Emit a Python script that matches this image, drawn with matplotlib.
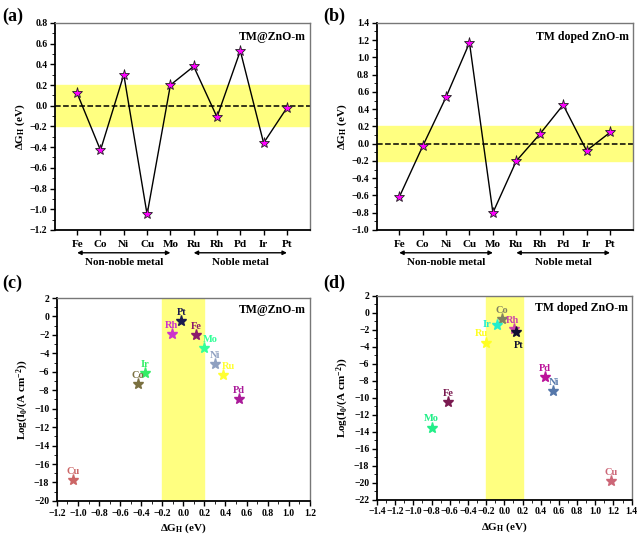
import matplotlib
matplotlib.use('Agg')
import matplotlib.pyplot as plt
from matplotlib.ticker import MultipleLocator

plt.rcParams['font.family'] = ['Liberation Serif', 'DejaVu Serif']
plt.rcParams['font.weight'] = 'bold'
plt.rcParams['axes.labelweight'] = 'bold'
plt.rcParams['mathtext.fontset'] = 'custom'
plt.rcParams['mathtext.rm'] = 'Liberation Serif:bold'
plt.rcParams['mathtext.it'] = 'Liberation Serif:italic:bold'
plt.rcParams['mathtext.bf'] = 'Liberation Serif:bold'

# Dados
metais = ['Fe', 'Co', 'Ni', 'Cu', 'Mo', 'Ru', 'Rh', 'Pd', 'Ir', 'Pt']
dg_a = [0.12, -0.43, 0.30, -1.05, 0.20, 0.38, -0.11, 0.53, -0.36, -0.02]
dg_b = [-0.62, -0.03, 0.54, 1.17, -0.80, -0.20, 0.11, 0.45, -0.08, 0.13]
logi_c = [-2.0, -7.3, -5.2, -17.7, -3.4, -6.4, -1.9, -9.0, -6.1, -0.5]
logi_d = [-10.5, -0.7, -9.2, -19.8, -13.5, -3.5, -1.9, -7.6, -1.4, -2.3]
cores_c = ['#8b1a6b', '#7a7040', '#8fa0c0', '#cc6666', '#33ff99',
           '#ffff33', '#cc33cc', '#aa1a99', '#33ee66', '#1a1a4e']
cores_d = ['#7a1a50', '#808060', '#5577aa', '#cc6677', '#22ee88',
           '#ffff22', '#cc44aa', '#bb1199', '#22eecc', '#101030']

# deslocamento dos rótulos (pontos) em cada painel
offs_c = {'Mo': (4, 3), 'Ru': (4, 3), 'Ni': (0, 3)}
offs_d = {'Ir': (-7, -3), 'Ru': (-3, 3), 'Pt': (2, -13), 'Rh': (-1, 3)}

fig = plt.figure(figsize=(6.4, 5.38), dpi=100)

def estilo(ax):
    for s in ['top', 'right']:
        ax.spines[s].set_color('#777777')
        ax.spines[s].set_linewidth(1.0)
    for s in ['left', 'bottom']:
        ax.spines[s].set_linewidth(1.3)
    ax.tick_params(direction='out', labelsize=7, width=1, pad=2)
    ax.tick_params(which='minor', direction='out', length=2)
    for lb in ax.get_xticklabels() + ax.get_yticklabels():
        lb.set_fontweight('bold')

def painel_linha(ax, valores, ymin, ymax, titulo):
    x = range(len(metais))
    ax.axhspan(-0.2, 0.2, color='#ffff80', zorder=0)
    ax.axhline(0, color='black', ls='--', lw=1.1, zorder=1)
    ax.plot(x, valores, color='black', lw=1, zorder=2)
    ax.plot(x, valores, ls='none', marker='*', ms=8, mfc='#ff00ff',
            mec='#222222', mew=0.6, zorder=3)
    ax.set_xlim(-0.95, 9.98)
    ax.set_ylim(ymin, ymax)
    ax.set_xticks(list(x))
    ax.yaxis.set_major_locator(MultipleLocator(0.2))
    ax.yaxis.set_minor_locator(MultipleLocator(0.1))
    ax.set_ylabel(r'$\Delta$G$_\mathrm{H}$ (eV)', fontsize=8, labelpad=2)
    ax.text(0.985, 0.96, titulo, transform=ax.transAxes, ha='right', va='top',
            fontsize=8.5, fontweight='bold')
    estilo(ax)
    ax.set_xticklabels(metais, fontsize=8, fontweight='bold')
    ax.tick_params(axis='x', pad=4)
    trans = ax.get_xaxis_transform()
    for a, b, nome in [(0, 4, 'Non-noble metal'), (5, 9, 'Noble metal')]:
        ax.annotate('', xy=(b, -0.11), xytext=(a, -0.11), xycoords=trans,
                    textcoords=trans, annotation_clip=False,
                    arrowprops=dict(arrowstyle='<|-|>', color='black', lw=1,
                                    mutation_scale=6, shrinkA=0, shrinkB=0))
        ax.text((a + b) / 2, -0.155, nome, transform=trans, ha='center',
                va='center', fontsize=8, fontweight='bold')

def painel_volcano(ax, xs, ys, cores, xmin, xmax, ymin, titulo, offs):
    ax.axvspan(-0.2, 0.2, color='#ffff80', zorder=0)
    for m, xv, yv, c in zip(metais, xs, ys, cores):
        ax.plot(xv, yv, ls='none', marker='*', ms=8, color=c, mec=c, zorder=3)
        dx, dy = offs.get(m, (0, 3))
        ax.annotate(m, (xv, yv), xytext=(dx, dy), textcoords='offset points',
                    ha='center', va='bottom', color=c, fontsize=7.5,
                    fontweight='bold', zorder=4)
    ax.set_xlim(xmin, xmax)
    ax.set_ylim(ymin, 2)
    ax.xaxis.set_major_locator(MultipleLocator(0.2))
    ax.xaxis.set_minor_locator(MultipleLocator(0.1))
    ax.yaxis.set_major_locator(MultipleLocator(2))
    ax.yaxis.set_minor_locator(MultipleLocator(1))
    ax.set_xlabel(r'$\Delta$G$_\mathrm{H}$ (eV)', fontsize=8, labelpad=3)
    ax.set_ylabel(r'Log(I$_0$/(A cm$^{-2}$))', fontsize=8, labelpad=2)
    ax.text(0.985, 0.97, titulo, transform=ax.transAxes, ha='right', va='top',
            fontsize=8.5, fontweight='bold')
    estilo(ax)

ax_a = fig.add_axes([0.086, 0.5725, 0.398, 0.385])
painel_linha(ax_a, dg_a, -1.2, 0.8, 'TM@ZnO-m')

ax_b = fig.add_axes([0.589, 0.5725, 0.400, 0.385])
painel_linha(ax_b, dg_b, -1.0, 1.4, 'TM doped ZnO-m')

ax_c = fig.add_axes([0.089, 0.069, 0.395, 0.377])
painel_volcano(ax_c, dg_a, logi_c, cores_c, -1.2, 1.2, -20, 'TM@ZnO-m', offs_c)

ax_d = fig.add_axes([0.589, 0.071, 0.398, 0.379])
painel_volcano(ax_d, dg_b, logi_d, cores_d, -1.4, 1.4, -22, 'TM doped ZnO-m',
               offs_d)

for txt, x, y in [('(a)', 0.003, 0.985), ('(b)', 0.505, 0.985),
                  ('(c)', 0.003, 0.49), ('(d)', 0.505, 0.49)]:
    fig.text(x, y, txt, fontsize=13, fontweight='bold', va='top')

plt.savefig('out.png', dpi=100)
